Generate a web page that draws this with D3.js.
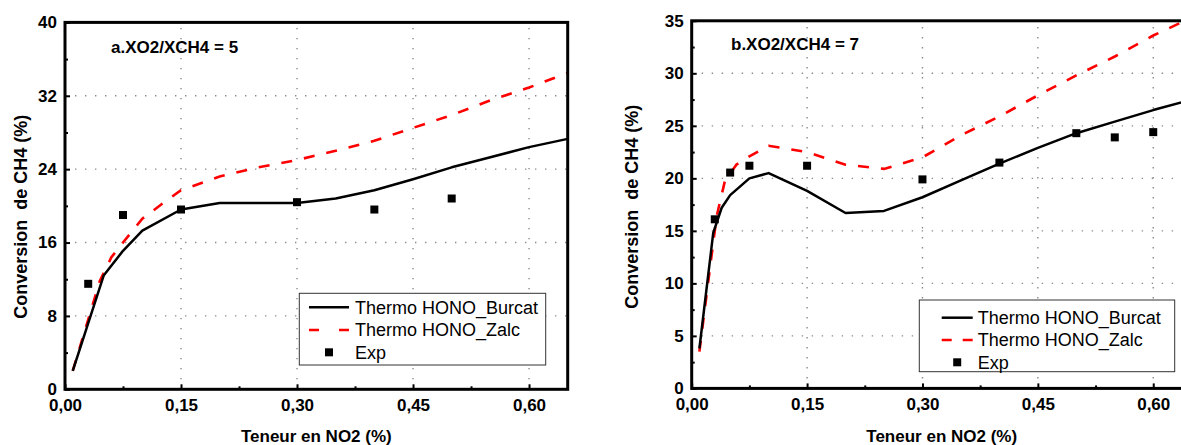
<!DOCTYPE html>
<html><head><meta charset="utf-8">
<script src="https://cdn.jsdelivr.net/npm/d3@7"></script>
<style>
body{margin:0;background:#fff}
svg{display:block;font-family:Arial,"Liberation Sans",sans-serif}
</style>
</head><body>
<svg id="c" width="1181" height="445"></svg>
<script>
// ---------- shared ----------
const xTickValues = [0, 0.15, 0.30, 0.45, 0.60];
const xMinorValues = [0.075, 0.225, 0.375, 0.525];
const xGridValues = [0.15, 0.30, 0.45, 0.60];
const legendLabels = ["Thermo HONO_Burcat", "Thermo HONO_Zalc", "Exp"];
const xAxisTitle = "Teneur en NO2 (%)";
const yAxisTitle = "Conversion  de CH4 (%)";

// ---------- panel a ----------
const aTitle = "a.XO2/XCH4 = 5";
const aYTicks = [0, 8, 16, 24, 32, 40];
const aYMinor = [4, 12, 20, 28, 36];
const aYGrid = [8, 16, 24, 32];
const aBurcatX = [0.01, 0.05, 0.075, 0.10, 0.15, 0.20, 0.25, 0.30, 0.35, 0.40, 0.45, 0.50, 0.55, 0.60, 0.65];
const aBurcatY = [2.0, 12.4, 15.1, 17.3, 19.6, 20.3, 20.3, 20.3, 20.8, 21.7, 22.9, 24.2, 25.3, 26.4, 27.3];
const aZalcX = [0.01, 0.03, 0.045, 0.06, 0.075, 0.10, 0.13, 0.15, 0.20, 0.25, 0.30, 0.35, 0.40, 0.45, 0.50, 0.55, 0.60, 0.65];
const aZalcY = [2.0, 7.6, 11.8, 14.4, 16.0, 18.6, 20.5, 21.7, 23.2, 24.2, 25.0, 26.0, 27.1, 28.5, 29.9, 31.5, 32.9, 34.5];
const aExpX = [0.03, 0.075, 0.15, 0.30, 0.40, 0.50];
const aExpY = [11.5, 19.0, 19.6, 20.4, 19.6, 20.8];

// ---------- panel b ----------
const bTitle = "b.XO2/XCH4 = 7";
const bYTicks = [0, 5, 10, 15, 20, 25, 30, 35];
const bYMinor = [2.5, 7.5, 12.5, 17.5, 22.5, 27.5, 32.5];
const bYGrid = [5, 10, 15, 20, 25, 30];
const bBurcatX = [0.01, 0.028, 0.039, 0.05, 0.075, 0.10, 0.15, 0.20, 0.25, 0.30, 0.35, 0.40, 0.45, 0.50, 0.55, 0.60, 0.65];
const bBurcatY = [3.8, 14.8, 17.2, 18.4, 20.0, 20.5, 18.8, 16.7, 16.9, 18.2, 19.8, 21.4, 22.9, 24.3, 25.4, 26.5, 27.5];
const bZalcX = [0.01, 0.024, 0.0325, 0.043, 0.058, 0.075, 0.10, 0.15, 0.20, 0.25, 0.30, 0.35, 0.40, 0.45, 0.50, 0.55, 0.60, 0.65];
const bZalcY = [3.5, 11.6, 16.4, 19.7, 21.3, 22.1, 23.1, 22.5, 21.3, 20.9, 22.0, 24.1, 25.9, 27.9, 29.8, 31.6, 33.6, 35.3];
const bExpX = [0.03, 0.05, 0.075, 0.15, 0.30, 0.40, 0.50, 0.55, 0.60];
const bExpY = [16.1, 20.55, 21.2, 21.2, 19.9, 21.5, 24.3, 23.9, 24.4];

const svg = d3.select("#c");
const fmtX = d => d3.format(".2f")(d).replace(".", ",");

function panel(cfg) {
  const g = svg.append("g");
  const x = d3.scaleLinear().domain([0, 0.65]).range([cfg.x0, cfg.x1]);
  const y = d3.scaleLinear().domain([0, cfg.yMax]).range([cfg.y0, cfg.y1]);

  const clipId = "clip" + cfg.id;
  svg.append("clipPath").attr("id", clipId).append("rect")
    .attr("x", cfg.x0).attr("y", cfg.y1).attr("width", cfg.x1 - cfg.x0).attr("height", cfg.y0 - cfg.y1);

  // grid
  g.selectAll(".vg").data(xGridValues).join("line")
    .attr("x1", d => x(d)).attr("x2", d => x(d)).attr("y1", y(0)).attr("y2", y(cfg.yMax))
    .attr("stroke", "#8a8a8a").attr("stroke-width", 1.4).attr("stroke-dasharray", "1.4,8.6");
  g.selectAll(".hg").data(cfg.yGrid).join("line")
    .attr("y1", d => y(d)).attr("y2", d => y(d)).attr("x1", x(0)).attr("x2", x(0.65))
    .attr("stroke", "#8a8a8a").attr("stroke-width", 1.4).attr("stroke-dasharray", "1.4,8.6");

  // axes (ticks inward)
  const styleAxis = sel => {
    sel.select(".domain").remove();
    sel.selectAll("line").attr("stroke", "#000").attr("stroke-width", 2);
    sel.attr("font-size", 17).attr("font-weight", "bold").attr("font-family", "Arial, 'Liberation Sans', sans-serif");
    sel.selectAll("text").attr("fill", "#000");
  };
  g.append("g").attr("transform", `translate(0,${y(0)})`)
    .call(d3.axisBottom(x).tickValues(xTickValues).tickSize(-5).tickPadding(10).tickFormat(fmtX)).call(styleAxis);
  g.append("g").attr("transform", `translate(0,${y(0)})`)
    .call(d3.axisBottom(x).tickValues(xMinorValues).tickSize(-3).tickFormat("")).call(styleAxis);
  g.append("g").attr("transform", `translate(${x(0)},0)`)
    .call(d3.axisLeft(y).tickValues(cfg.yTicks).tickSize(-5).tickPadding(8).tickFormat(d3.format("d"))).call(styleAxis);
  g.append("g").attr("transform", `translate(${x(0)},0)`)
    .call(d3.axisLeft(y).tickValues(cfg.yMinor).tickSize(-3).tickFormat("")).call(styleAxis);

  // curves
  const line = d3.line().x(d => x(d[0])).y(d => y(d[1]));
  const plot = g.append("g").attr("clip-path", `url(#${clipId})`);
  plot.append("path").datum(d3.zip(cfg.zalcX, cfg.zalcY)).attr("d", line)
    .attr("fill", "none").attr("stroke", "#ff0000").attr("stroke-width", 2.6).attr("stroke-dasharray", "11,12");
  plot.append("path").datum(d3.zip(cfg.burcatX, cfg.burcatY)).attr("d", line)
    .attr("fill", "none").attr("stroke", "#000").attr("stroke-width", 2.5).attr("stroke-linejoin", "round");
  plot.selectAll(".exp").data(d3.zip(cfg.expX, cfg.expY)).join("rect")
    .attr("x", d => x(d[0]) - 4).attr("y", d => y(d[1]) - 4).attr("width", 8).attr("height", 8).attr("fill", "#000");

  // frame
  g.append("rect").attr("x", cfg.x0).attr("y", cfg.y1).attr("width", cfg.x1 - cfg.x0).attr("height", cfg.y0 - cfg.y1)
    .attr("fill", "none").attr("stroke", "#000").attr("stroke-width", 3);

  // panel title
  g.append("text").attr("x", cfg.titleX).attr("y", cfg.titleY).attr("font-size", 17).attr("font-weight", "bold")
    .text(cfg.title);

  // axis titles
  g.append("text").attr("x", (cfg.ax0 !== undefined ? cfg.ax0 : (cfg.x0 + cfg.x1) / 2)).attr("y", 442)
    .attr("text-anchor", "middle").attr("font-size", 17).attr("font-weight", "bold").text(xAxisTitle);
  g.append("text").attr("transform", `translate(${cfg.ytX},${cfg.ytY}) rotate(-90)`)
    .attr("text-anchor", "middle").attr("dy", "0.35em").attr("font-size", 18).attr("font-weight", "bold")
    .style("white-space", "pre").text(yAxisTitle);

  // legend
  const L = cfg.legend;
  const lg = g.append("g");
  lg.append("rect").attr("x", L.x).attr("y", L.y).attr("width", L.w).attr("height", L.h)
    .attr("fill", "#fff").attr("stroke", "#333").attr("stroke-width", 1);
  const rows = L.rows;
  lg.append("line").attr("x1", L.sx0).attr("x2", L.sx1).attr("y1", rows[0]).attr("y2", rows[0])
    .attr("stroke", "#000").attr("stroke-width", 2.5);
  lg.append("line").attr("x1", L.sx0).attr("x2", L.sx1).attr("y1", rows[1]).attr("y2", rows[1])
    .attr("stroke", "#ff0000").attr("stroke-width", 2.6).attr("stroke-dasharray", "10," + (L.sx1 - L.sx0 - 20));
  lg.append("rect").attr("x", (L.sx0 + L.sx1) / 2 - 4).attr("y", rows[2] - 4).attr("width", 8).attr("height", 8).attr("fill", "#000");
  lg.selectAll(".lt").data(legendLabels).join("text")
    .attr("x", L.tx).attr("y", (d, i) => rows[i]).attr("dy", "0.35em").attr("font-size", 18).text(d => d);
}

panel({
  id: "a", x0: 65, x1: 567.7, y0: 389.3, y1: 22.4, yMax: 40,
  yTicks: aYTicks, yMinor: aYMinor, yGrid: aYGrid,
  burcatX: aBurcatX, burcatY: aBurcatY, zalcX: aZalcX, zalcY: aZalcY, expX: aExpX, expY: aExpY,
  title: aTitle, titleX: 111, titleY: 53,
  ytX: 21, ytY: 216.7,
  legend: { x: 299.3, y: 293.3, w: 246.4, h: 71.7, rows: [307.3, 330, 352.3], sx0: 309, sx1: 349, tx: 355 }
});
panel({
  id: "b", x0: 691.7, x1: 1191.7, y0: 388.4, y1: 20.8, yMax: 35, ax0: 941.7,
  yTicks: bYTicks, yMinor: bYMinor, yGrid: bYGrid,
  burcatX: bBurcatX, burcatY: bBurcatY, zalcX: bZalcX, zalcY: bZalcY, expX: bExpX, expY: bExpY,
  title: bTitle, titleX: 731, titleY: 50,
  ytX: 632, ytY: 206.7,
  legend: { x: 919.3, y: 300, w: 255.4, h: 71.7, rows: [317.7, 340, 362.3], sx0: 941.7, sx1: 972.7, tx: 977.7 }
});
</script>
</body></html>
